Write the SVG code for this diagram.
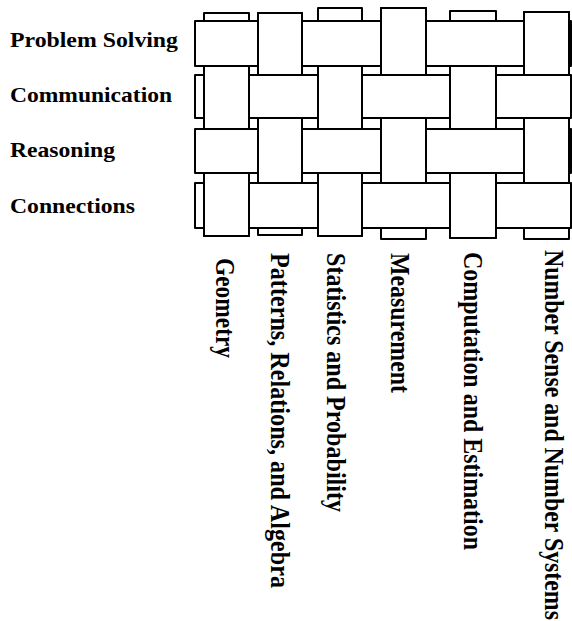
<svg xmlns="http://www.w3.org/2000/svg" width="572" height="621" viewBox="0 0 572 621">
<style>
.s{fill:#fff;stroke:#000;stroke-width:2;stroke-linejoin:round}
.t{font-family:"Liberation Serif","Times New Roman",serif;font-weight:bold;fill:#000}
.r{font-size:22px}
.c{font-size:24px}
</style>
<rect width="572" height="621" fill="#fff"/>
<g id="weave">
<g id="columns-under">
<rect class="s" x="204" y="13" width="45" height="223"/>
<rect class="s" x="258" y="13" width="44" height="222"/>
<rect class="s" x="318" y="8" width="44" height="228"/>
<rect class="s" x="381" y="8" width="45" height="231"/>
<rect class="s" x="450" y="11" width="46" height="227"/>
<rect class="s" x="524" y="12" width="45" height="227"/>
</g>
<g id="rows">
<rect class="s" x="195" y="21" width="376" height="45"/>
<rect class="s" x="195" y="75" width="376" height="43"/>
<rect class="s" x="195" y="129" width="376" height="44"/>
<rect class="s" x="195" y="183" width="376" height="45"/>
</g>
<g id="columns-over">
<rect class="s" x="258" y="13" width="44" height="62"/>
<rect class="s" x="381" y="8" width="45" height="67"/>
<rect class="s" x="524" y="12" width="45" height="63"/>
<rect class="s" x="204" y="66" width="45" height="63"/>
<rect class="s" x="318" y="66" width="44" height="63"/>
<rect class="s" x="450" y="66" width="46" height="63"/>
<rect class="s" x="258" y="118" width="44" height="65"/>
<rect class="s" x="381" y="118" width="45" height="65"/>
<rect class="s" x="524" y="118" width="45" height="65"/>
<rect class="s" x="204" y="173" width="45" height="63"/>
<rect class="s" x="318" y="173" width="44" height="63"/>
<rect class="s" x="450" y="173" width="46" height="65"/>
</g>
</g>
<g id="row-labels">
<text id="problem-solving" class="t r" x="10" y="47" textLength="168" lengthAdjust="spacingAndGlyphs">Problem Solving</text>
<text id="communication" class="t r" x="10" y="102" textLength="162" lengthAdjust="spacingAndGlyphs">Communication</text>
<text id="reasoning" class="t r" x="10" y="157" textLength="105" lengthAdjust="spacingAndGlyphs">Reasoning</text>
<text id="connections" class="t r" x="10" y="213" textLength="125" lengthAdjust="spacingAndGlyphs">Connections</text>
</g>
<g id="column-labels">
<text id="geometry" class="t c" transform="translate(216,258) rotate(90) scale(1,1.12)" textLength="100" lengthAdjust="spacingAndGlyphs">Geometry</text>
<text id="patterns" class="t c" transform="translate(271,253) rotate(90) scale(1,1.12)" textLength="335" lengthAdjust="spacingAndGlyphs">Patterns, Relations, and Algebra</text>
<text id="statistics" class="t c" transform="translate(327,253) rotate(90) scale(1,1.12)" textLength="259" lengthAdjust="spacingAndGlyphs">Statistics and Probability</text>
<text id="measurement" class="t c" transform="translate(391,253) rotate(90) scale(1,1.12)" textLength="140" lengthAdjust="spacingAndGlyphs">Measurement</text>
<text id="computation" class="t c" transform="translate(464,252) rotate(90) scale(1,1.12)" textLength="298" lengthAdjust="spacingAndGlyphs">Computation and Estimation</text>
<text id="number-sense" class="t c" transform="translate(545,250) rotate(90) scale(1,1.12)" textLength="370" lengthAdjust="spacingAndGlyphs">Number Sense and Number Systems</text>
</g>
</svg>
